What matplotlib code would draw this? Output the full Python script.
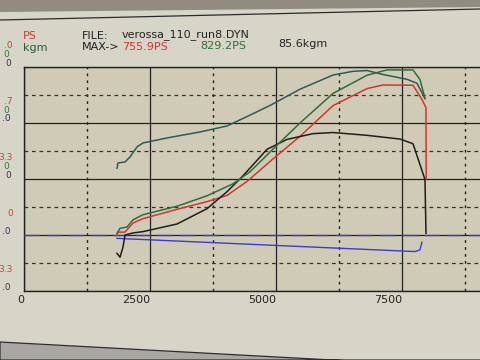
import matplotlib
matplotlib.use('Agg')
import matplotlib.pyplot as plt
from matplotlib.patches import Polygon
from matplotlib.lines import Line2D

# dyno run
rpm_red = [1845, 1865, 2004, 2163, 2361, 3036, 3631, 4028, 4425, 4940, 5476,
           6131, 6805, 7123, 7718, 7896, 7976, 7980]
ps_red = [99, 112, 112, 150, 168, 207, 239, 265, 323, 417, 511,
          639, 710, 725, 724, 665, 630, 331]

rpm_green = [1845, 1905, 2044, 2163, 2361, 3036, 3631, 4147, 4484, 4940, 5476,
             6131, 6805, 7202, 7718, 7857, 7956]
ps_green = [216, 235, 240, 267, 286, 318, 357, 402, 447, 532, 630,
            741, 809, 829, 829, 793, 722]

rpm_teal = [1845, 1865, 2004, 2103, 2242, 2361, 2837, 3492, 4028, 4484, 4881,
            5476, 6131, 6528, 6805, 7123, 7599, 7797, 7956]
kgm_teal = [65.8, 68.6, 69.1, 71.8, 77.2, 79.3, 82.0, 85.2, 88.4, 94.2, 99.4,
            108.1, 115.7, 117.7, 118.1, 116.0, 113.4, 111.3, 103.1]

rpm_black = [1845, 1905, 1964, 2004, 2163, 2361, 3036, 3631, 4028, 4345, 4821,
             5218, 5734, 6131, 6805, 7460, 7718, 7857, 7956, 7976]
kgm_black = [20.2, 18.1, 23.5, 30.0, 31.1, 31.8, 35.9, 44.1, 53.2, 61.7, 75.9,
             81.2, 84.3, 84.9, 83.4, 81.4, 78.9, 67.7, 59.7, 30.9]

rpm_blue = [1845, 6131, 7758, 7857, 7896]
ps_blue = [86, 46, 31, 38, 70]
ps_ref = 100.0

xticks = [0, 2500, 5000, 7500]
xminor = [1250, 3750, 6250, 8750]
# only the right-hand ends of the scale labels are on screen
ps_labels = ['.0', '.7', '3.3', '0', '3.3']
green_labels = ['0', '0', '0']
kgm_labels = ['0', '.0', '0', '.0', '.0']

RED = '#d8352a'
GREEN = '#2f6e38'
TEAL = '#2b5d58'
DARK = '#1e1e1e'
BLUE = '#3b3bd6'

fig = plt.figure(figsize=(4.8, 3.6), dpi=100)
fig.patch.set_facecolor('#d7d5c8')
W, H = 480.0, 360.0

top, bottom = 67, 291
ax = fig.add_axes([24 / W, 1 - bottom / H, 504 / W, (bottom - top) / H])
ax.set_facecolor('#cfcbb6')
ax.set_xlim(0, 10000)
ax.set_ylim(-133.33, 800)
ax.set_xticks(xticks)
ax.set_xticks(xminor, minor=True)
ax.set_yticks([800 - 233.33 * i for i in range(5)])
ax.set_yticks([683.33 - 233.33 * i for i in range(4)], minor=True)
ax.grid(which='major', color='#222222', lw=0.9, ls='-')
ax.grid(which='minor', axis='y', color='#333333', lw=0.9, ls=(0, (3, 3)))
ax.grid(which='minor', axis='x', color='#222222', lw=1.0, ls=(0, (2, 3)))
ax.tick_params(which='both', length=0, labelleft=False)
ax.set_xticklabels([str(t) for t in xticks], fontsize=8, color='#222222', ha='right')
ax.tick_params(axis='x', pad=3)
for s in ax.spines.values():
    s.set_color('#222222')
    s.set_linewidth(1.0)
ax.set_axisbelow(True)

ax_kgm = ax.twinx()
ax_kgm.set_ylim(0, 120)
ax_grn = ax.twinx()
ax_grn.set_ylim(0, 840)
for a in (ax_kgm, ax_grn):
    a.set_yticks([])
    for s in a.spines.values():
        s.set_visible(False)

ax.axhline(ps_ref, color=BLUE, lw=1.0, ls=(0, (11, 5)), zorder=3)
ax.plot(rpm_blue, ps_blue, color=BLUE, lw=1.0, zorder=3)
ax_kgm.plot(rpm_teal, kgm_teal, color=TEAL, lw=1.1)
ax_kgm.plot(rpm_black, kgm_black, color=DARK, lw=1.1)
ax_grn.plot(rpm_green, ps_green, color=GREEN, lw=1.1)
ax.plot(rpm_red, ps_red, color=RED, lw=1.1, zorder=4)

# scale labels at left edge of the screen
major_px = [67 + i * (bottom - top) / 4 for i in range(5)]
for i, y in enumerate(major_px):
    fig.text(13 / W, 1 - (y - 21) / H, ps_labels[i], color='#c84434',
             fontsize=6.5, ha='right', va='center')
    fig.text(11 / W, 1 - (y - 4) / H, kgm_labels[i], color='#3b2d55',
             fontsize=6.5, ha='right', va='center')
    if i < len(green_labels):
        fig.text(9 / W, 1 - (y - 12.5) / H, green_labels[i], color='#2f7a3a',
                 fontsize=6.5, ha='right', va='center')

# header
def put(x, y, s, c):
    fig.text(x / W, 1 - y / H, s, color=c, fontsize=8, ha='left', va='center')

put(23, 36, 'PS', '#d03a2c')
put(23, 48, 'kgm', '#2d5a3a')
put(82, 36, 'FILE:', '#222222')
put(122, 35, 'verossa_110_run8.DYN', '#222222')
put(82, 47, 'MAX->', '#222222')
put(122, 47, '755.9PS', RED)
put(200, 46, '829.2PS', GREEN)
put(278, 44, '85.6kgm', '#222222')

# monitor frame bits
fig.patches.append(Polygon([(0, 1), (1, 1), (1, 1 - 7 / H), (0, 1 - 12 / H)],
                           closed=True, transform=fig.transFigure,
                           facecolor='#928b7f', edgecolor='none'))
fig.lines.append(Line2D([0, 1], [1 - 20 / H, 1 - 9 / H], transform=fig.transFigure,
                        color='#2a2a2a', lw=0.9))
fig.patches.append(Polygon([(0, 1 - 342 / H), (1, 1 - 368 / H), (1, 0), (0, 0)],
                           closed=True, transform=fig.transFigure,
                           facecolor='#aaa6a4', edgecolor='#2e2e2e', lw=0.9))

fig.savefig('out.png', dpi=100, facecolor=fig.get_facecolor())
